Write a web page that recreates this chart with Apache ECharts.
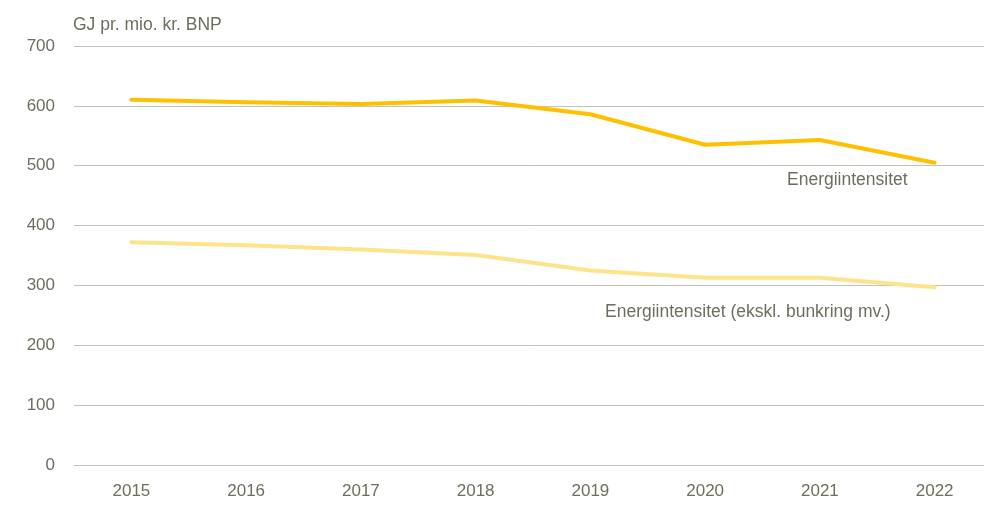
<!DOCTYPE html>
<html>
<head>
<meta charset="utf-8">
<script src="https://cdn.jsdelivr.net/npm/echarts@6/dist/echarts.min.js"></script>
<style>
  html, body { margin: 0; padding: 0; background: #fff; }
  #chart { width: 984px; height: 505px; }
</style>
</head>
<body>
<div id="chart"></div>
<script>
(function () {
    'use strict';

    var years = ['2015', '2016', '2017', '2018', '2019', '2020', '2021', '2022'];
    var intensity = [610, 606, 603, 609, 586, 535, 543, 505];
    var intensityExBunker = [372, 367, 360, 351, 325, 313, 313, 297];
    var yTicks = { min: 0, max: 700, interval: 100 };

    var TEXT = '#6f6e5e';
    var GRID = '#c4c3b8';
    var FONT = '"Liberation Sans", Arial, sans-serif';

    var chart = echarts.init(document.getElementById('chart'));

    chart.setOption({
        animation: false,
        title: {
            text: 'GJ pr. mio. kr. BNP',
            left: 68, top: 11,
            textStyle: { color: TEXT, fontSize: 17.5, fontWeight: 'normal', fontFamily: FONT }
        },
        // grid runs a little past the right edge, like the original
        grid: { left: 74, width: 918, top: 46, bottom: 40, outerBoundsMode: 'none' },
        xAxis: {
            type: 'category',
            data: years,
            boundaryGap: true,
            axisLine: { show: true, lineStyle: { color: GRID, width: 1 } },
            axisTick: { show: false },
            axisLabel: { color: TEXT, fontSize: 17, fontFamily: FONT, margin: 18 }
        },
        yAxis: {
            type: 'value',
            min: yTicks.min, max: yTicks.max, interval: yTicks.interval,
            axisLine: { show: false },
            axisTick: { show: false },
            axisLabel: { color: TEXT, fontSize: 17, fontFamily: FONT, margin: 19 },
            splitLine: { lineStyle: { color: GRID, width: 1 } }
        },
        series: [{
            name: 'Energiintensitet',
            type: 'line',
            data: intensity,
            symbol: 'none',
            lineStyle: { color: '#ffc000', width: 4, cap: 'round', join: 'round' },
            endLabel: {
                show: true, formatter: '{a}', align: 'right',
                offset: [-35, 17],
                color: TEXT, fontSize: 17.5, fontFamily: FONT
            },
            z: 3
        }, {
            name: 'Energiintensitet (ekskl. bunkring mv.)',
            type: 'line',
            data: intensityExBunker,
            symbol: 'none',
            lineStyle: { color: '#ffe38a', width: 4, cap: 'round', join: 'round' },
            endLabel: {
                show: true, formatter: '{a}', align: 'right',
                offset: [-52, 25],
                color: TEXT, fontSize: 17.5, fontFamily: FONT
            },
            z: 2
        }]
    });
})();
</script>
</body>
</html>
